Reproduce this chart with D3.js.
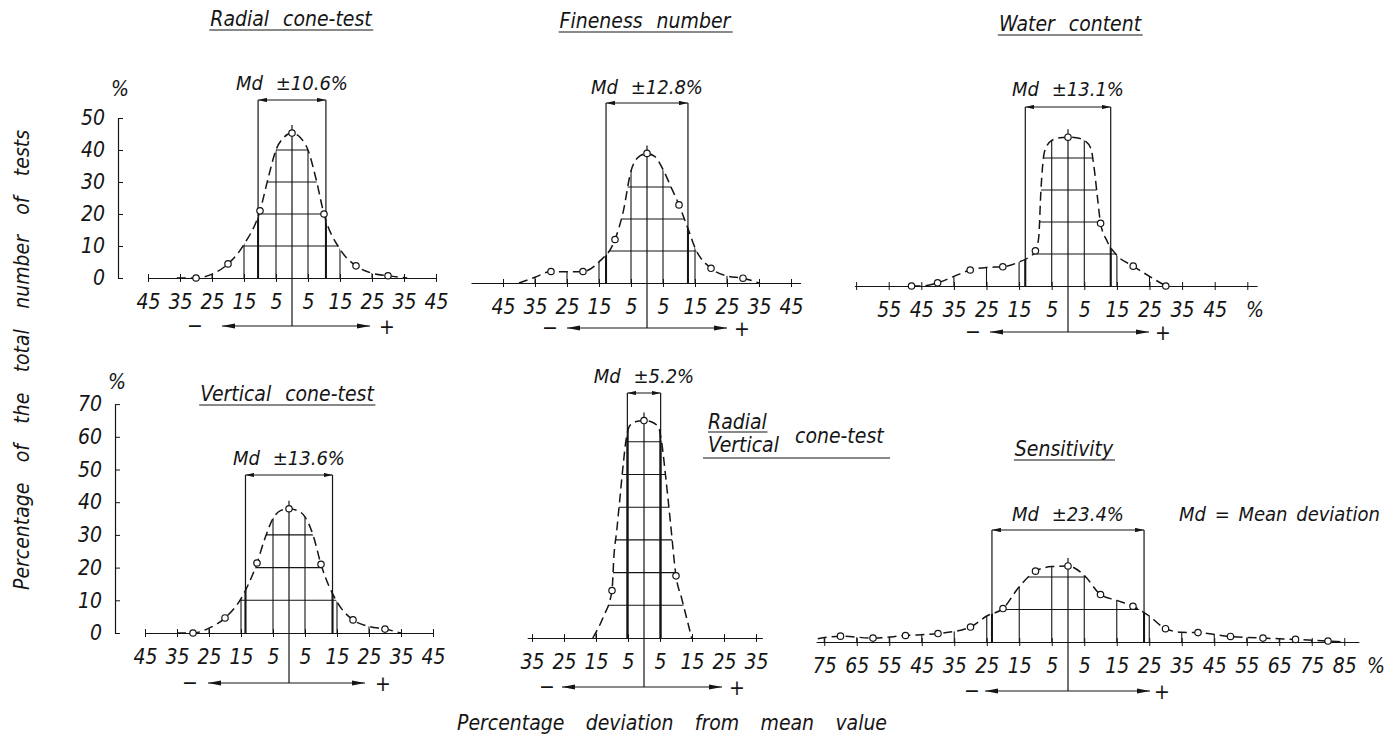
<!DOCTYPE html>
<html>
<head>
<meta charset="utf-8">
<script src="https://cdnjs.cloudflare.com/ajax/libs/d3/7.8.5/d3.min.js"></script>
<style>
  body { margin: 0; background: #fff; }
  svg text {
    font-family: "DejaVu Sans Condensed", "Liberation Sans Narrow", "DejaVu Sans", sans-serif;
    font-style: italic;
    fill: #151515;
  }
  .tick-label { font-size: 21px; }
  .title { font-size: 21px; word-spacing: 8px; }
  .md-label { font-size: 20px; word-spacing: 7px; }
  .big-label { font-size: 21px; }
  .ink { stroke: #151515; stroke-width: 1.2; fill: none; }
  .grid { stroke: #151515; stroke-width: 1.1; }
  .curve { fill: none; stroke: #151515; stroke-width: 1.5; stroke-dasharray: 9, 5; }
  .pt { fill: #fff; stroke: #151515; stroke-width: 1.2; }
</style>
</head>
<body>
<svg id="chart" width="1393" height="740"></svg>
<script>
//radial cone-test
var radialDev = [-30, -20, -10, 0, 10, 20, 30];
var radialPct = [0, 4.4, 21, 45.3, 20, 3.8, 0.7];
var radialCurveDev = [-36, -30, -25, -20, -15, -10, -7.5, -5, -2.5, 0, 2.5, 5, 7.5, 10, 15, 20, 25, 30, 36];
var radialCurvePct = [0, 0, 1.2, 4.4, 10.5, 21, 31, 40, 44, 45.3, 44, 40, 31, 20, 9, 3.8, 1.5, 0.7, 0];
var radialTicks = [-45, -35, -25, -15, -5, 5, 15, 25, 35, 45];
var radialTickLabels = ["45", "35", "25", "15", "5", "5", "15", "25", "35", "45"];
var radialYTicks = [0, 10, 20, 30, 40, 50];

//fineness number
var finenessDev = [-30, -20, -10, 0, 10, 20, 30];
var finenessPct = [3.6, 3.6, 13.6, 40.5, 24.4, 4.6, 1.5];
var finenessCurveDev = [-40, -35, -30, -25, -20, -15, -10, -7.5, -5, -2.5, 0, 2.5, 5, 7.5, 10, 12.8, 15, 20, 25, 30, 35];
var finenessCurvePct = [0, 1.8, 3.6, 3.5, 3.6, 6.6, 13.6, 22, 35, 39.5, 40.5, 39.5, 35.5, 30, 24.4, 17, 11, 4.6, 2.2, 1.5, 0];
var finenessTicks = [-45, -35, -25, -15, -5, 5, 15, 25, 35, 45];
var finenessTickLabels = ["45", "35", "25", "15", "5", "5", "15", "25", "35", "45"];

//water content
var waterDev = [-48, -40, -30, -20, -10, 0, 10, 20, 30];
var waterPct = [0, 1, 5, 6, 11, 46.5, 19.6, 6.2, 0];
var waterCurveDev = [-48, -45, -40, -35, -30, -25, -20, -15, -12, -10, -9, -8.3, -7.2, -5, -2.5, 0, 2.5, 5, 7, 8, 9, 10, 12, 15, 20, 25, 30];
var waterCurvePct = [0, 0, 1, 3, 5, 5.8, 6, 7.5, 9, 11, 15, 30, 42, 45.5, 46.3, 46.5, 46.3, 45.5, 43, 37, 28, 19.6, 14, 9.6, 6.2, 3, 0];
var waterTicks = [-65, -55, -45, -35, -25, -15, -5, 5, 15, 25, 35, 45, 55];
var waterTickLabels = ["", "55", "45", "35", "25", "15", "5", "5", "15", "25", "35", "45", ""];

//vertical cone-test
var verticalDev = [-30, -20, -10, 0, 10, 20, 30];
var verticalPct = [0, 4.6, 21.4, 38, 21, 4, 1.2];
var verticalCurveDev = [-35, -30, -25, -20, -15, -10, -7.5, -5, -2.5, 0, 2.5, 5, 7.5, 10, 15, 20, 25, 30, 35];
var verticalCurvePct = [0, 0, 1.5, 4.6, 10.5, 21.4, 29, 35, 37.5, 38, 37.5, 35.5, 30, 21, 9.5, 4, 2, 1.2, 0];
var verticalTicks = [-45, -35, -25, -15, -5, 5, 15, 25, 35, 45];
var verticalTickLabels = ["45", "35", "25", "15", "5", "5", "15", "25", "35", "45"];
var verticalYTicks = [0, 10, 20, 30, 40, 50, 60, 70];

//radial / vertical cone-test
var ratioDev = [-10, 0, 10];
var ratioPct = [14.5, 66.5, 19];
var ratioCurveDev = [-16, -12.7, -10, -9.4, -8.5, -7.8, -6.5, -5.7, -4.4, -2, 0, 2, 4.5, 5.5, 6.7, 8.3, 10, 11.8, 14.9];
var ratioCurvePct = [0, 6.5, 14.5, 25, 33, 40, 53, 60, 65, 66.3, 66.5, 66.2, 64.5, 60, 50, 35, 19, 12, 0];
var ratioTicks = [-35, -25, -15, -5, 5, 15, 25, 35];
var ratioTickLabels = ["35", "25", "15", "5", "5", "15", "25", "35"];

//sensitivity
var sensDev = [-70, -60, -50, -40, -30, -20, -10, 0, 10, 20, 30, 40, 50, 60, 70, 80];
var sensPct = [1.8, 1.2, 2.0, 2.6, 4.6, 10.3, 21.8, 23.4, 14.6, 11.0, 4.1, 2.9, 1.7, 1.2, 0.8, 0.3];
var sensCurveDev = [-77, -70, -60, -50, -40, -30, -25, -20, -15, -10, -5, 0, 5, 10, 15, 20, 25, 30, 35, 40, 50, 60, 70, 80, 85];
var sensCurvePct = [1, 1.8, 1.2, 2.0, 2.6, 4.6, 8, 10.3, 17, 21.8, 23.2, 23.4, 20.5, 14.6, 12.8, 11, 8, 4.1, 3, 2.9, 1.7, 1.2, 0.8, 0.3, 0];
var sensTicks = [-75, -65, -55, -45, -35, -25, -15, -5, 5, 15, 25, 35, 45, 55, 65, 75, 85];
var sensTickLabels = ["75", "65", "55", "45", "35", "25", "15", "5", "5", "15", "25", "35", "45", "55", "65", "75", "85"];

//mean deviations
var mdValues = [10.6, 12.8, 13.1, 13.6, 5.2, 23.4];

//panel layout
var panels = [
  { title: "Radial cone-test", titleX: 291, titleY: 26, dev: radialDev, pct: radialPct,
    curveDev: radialCurveDev, curvePct: radialCurvePct, ticks: radialTicks, tickLabels: radialTickLabels,
    cx: 292, base: 278, kx: 3.2, ky: 3.2, axisMin: -45, axisMax: 45, md: mdValues[0],
    mdY: 90, bracketY: 100, arrowY: 326, arrowL: 70, arrowR: 78, minusOff: 97, plusOff: 95,
    yTicks: radialYTicks, yAxisX: 118, pctY: 96 },
  { title: "Fineness number", titleX: 645, titleY: 28, dev: finenessDev, pct: finenessPct,
    curveDev: finenessCurveDev, curvePct: finenessCurvePct, ticks: finenessTicks, tickLabels: finenessTickLabels,
    cx: 647, base: 283, kx: 3.2, ky: 3.2, axisMin: -55, axisMax: 48, md: mdValues[1],
    mdY: 94, bracketY: 103, arrowY: 328, arrowL: 80, arrowR: 80, minusOff: 97, plusOff: 95 },
  { title: "Water content", titleX: 1070, titleY: 31, dev: waterDev, pct: waterPct,
    curveDev: waterCurveDev, curvePct: waterCurvePct, ticks: waterTicks, tickLabels: waterTickLabels,
    cx: 1068, base: 286, kx: 3.26, ky: 3.2, axisMin: -65.5, axisMax: 58, md: mdValues[2],
    mdY: 96, bracketY: 107, arrowY: 332, arrowL: 78, arrowR: 81, minusOff: 95, plusOff: 95, pctX: 1255 },
  { title: "Vertical cone-test", titleX: 287, titleY: 401, dev: verticalDev, pct: verticalPct,
    curveDev: verticalCurveDev, curvePct: verticalCurvePct, ticks: verticalTicks, tickLabels: verticalTickLabels,
    cx: 289, base: 633, kx: 3.2, ky: 3.27, axisMin: -45, axisMax: 45, md: mdValues[3],
    mdY: 465, bracketY: 475, arrowY: 683, arrowL: 81, arrowR: 76, minusOff: 99, plusOff: 94,
    yTicks: verticalYTicks, yAxisX: 115, pctY: 389 },
  { title: null, dev: ratioDev, pct: ratioPct,
    curveDev: ratioCurveDev, curvePct: ratioCurvePct, ticks: ratioTicks, tickLabels: ratioTickLabels,
    cx: 644, base: 638, kx: 3.2, ky: 3.27, axisMin: -36.5, axisMax: 37, md: mdValues[4],
    mdY: 383, bracketY: 393, arrowY: 687, arrowL: 82, arrowR: 78, minusOff: 97, plusOff: 93 },
  { title: "Sensitivity", titleX: 1064, titleY: 456, dev: sensDev, pct: sensPct,
    curveDev: sensCurveDev, curvePct: sensCurvePct, ticks: sensTicks, tickLabels: sensTickLabels,
    cx: 1068, base: 642, kx: 3.25, ky: 3.25, axisMin: -77.5, axisMax: 89.5, md: mdValues[5],
    mdY: 521, bracketY: 530, arrowY: 691, arrowL: 83, arrowR: 82, minusOff: 96, plusOff: 94, pctX: 1376 }
];

var svg = d3.select("#chart");
var defs = svg.append("defs");

//arrow heads
function addMarker(id, len, half) {
  defs.append("marker")
    .attr("id", id)
    .attr("viewBox", "0 " + (-half) + " " + len + " " + (2 * half))
    .attr("refX", len)
    .attr("refY", 0)
    .attr("markerWidth", len)
    .attr("markerHeight", 2 * half)
    .attr("markerUnits", "userSpaceOnUse")
    .attr("orient", "auto-start-reverse")
    .append("path")
    .attr("d", "M0," + (-half) + "L" + len + ",0L0," + half + "Z")
    .attr("fill", "#151515");
}
addMarker("arrowBig", 13, 2.6);
addMarker("arrowSmall", 9, 2.2);

function underline(textSel, y, pad) {
  var bb = textSel.node().getBBox();
  svg.append("line").attr("class", "ink")
    .attr("x1", bb.x - pad).attr("x2", bb.x + bb.width + pad)
    .attr("y1", y).attr("y2", y);
}

// spread the words of a label over a given length
function spreadWords(textSel, len) {
  var node = textSel.node();
  var gaps = node.textContent.split(" ").length - 1;
  var natural = node.getComputedTextLength();
  textSel.style("word-spacing", ((len - natural) / gaps) + "px");
}

function drawPanel(p, i) {
  var x = d3.scaleLinear()
    .domain([p.axisMin, p.axisMax])
    .range([p.cx + p.axisMin * p.kx, p.cx + p.axisMax * p.kx]);
  var y = d3.scaleLinear()
    .domain([0, 70])
    .range([p.base, p.base - 70 * p.ky]);

  var curveData = p.curveDev.map(function(d, j) { return { x: d, y: p.curvePct[j] }; });
  var pointData = p.dev.map(function(d, j) { return { x: d, y: p.pct[j] }; });
  var peak = d3.max(p.pct);

  var g = svg.append("g").attr("class", "panel");

  var area = d3.area().curve(d3.curveMonotoneX)
    .x(function(d) { return x(d.x); })
    .y0(y(0))
    .y1(function(d) { return y(d.y); });
  var line = d3.line().curve(d3.curveMonotoneX)
    .x(function(d) { return x(d.x); })
    .y(function(d) { return y(d.y); });

  defs.append("clipPath").attr("id", "under" + i)
    .append("path").attr("d", area(curveData));

  // grid under the curve
  var grid = g.append("g").attr("clip-path", "url(#under" + i + ")");
  grid.selectAll("line.v")
    .data(p.ticks)
    .enter().append("line")
    .attr("class", "grid")
    .attr("x1", function(d) { return x(d); })
    .attr("x2", function(d) { return x(d); })
    .attr("y1", y(0))
    .attr("y2", y(70));
  grid.selectAll("line.h")
    .data(d3.range(10, peak, 10))
    .enter().append("line")
    .attr("class", "grid")
    .attr("x1", x(p.axisMin))
    .attr("x2", x(p.axisMax))
    .attr("y1", function(d) { return y(d); })
    .attr("y2", function(d) { return y(d); });
  grid.selectAll("line.mdthick")
    .data([-p.md, p.md])
    .enter().append("line")
    .attr("class", "grid")
    .style("stroke-width", 2)
    .attr("x1", function(d) { return x(d); })
    .attr("x2", function(d) { return x(d); })
    .attr("y1", y(0))
    .attr("y2", y(70));

  // x axis
  var xAxis = d3.axisBottom(x)
    .tickValues(p.ticks)
    .tickFormat(function(d, j) { return p.tickLabels[j]; })
    .tickSizeOuter(0);
  var ax = g.append("g")
    .attr("transform", "translate(0," + y(0) + ")")
    .call(xAxis);
  ax.select(".domain").attr("stroke", "#151515").attr("stroke-width", 1.2);
  ax.selectAll(".tick line").attr("y1", -4).attr("y2", 4).attr("stroke", "#151515");
  ax.selectAll(".tick text").attr("class", "tick-label").attr("y", 31).attr("dy", null);

  if (p.pctX) {
    g.append("text").attr("class", "tick-label")
      .attr("x", p.pctX).attr("y", y(0) + 31)
      .attr("text-anchor", "middle")
      .text("%");
  }

  // y axis
  if (p.yTicks) {
    var yMax = d3.max(p.yTicks);
    var ys = y.copy().domain([0, yMax]).range([y(0), y(yMax)]);
    var yAxis = d3.axisLeft(ys)
      .tickValues(p.yTicks)
      .tickSizeInner(-5)
      .tickSizeOuter(0)
      .tickPadding(13);
    var ya = g.append("g")
      .attr("transform", "translate(" + p.yAxisX + ",0)")
      .call(yAxis);
    ya.select(".domain").attr("stroke", "#151515").attr("stroke-width", 1.2);
    ya.selectAll(".tick line").attr("stroke", "#151515");
    ya.selectAll(".tick text").attr("class", "tick-label");
    g.append("text").attr("class", "tick-label")
      .attr("x", p.yAxisX + 2).attr("y", p.pctY)
      .attr("text-anchor", "middle")
      .text("%");
  }

  // mean deviation bracket
  g.selectAll("line.md")
    .data([-p.md, p.md])
    .enter().append("line")
    .attr("class", "ink")
    .attr("x1", function(d) { return x(d); })
    .attr("x2", function(d) { return x(d); })
    .attr("y1", y(0))
    .attr("y2", p.bracketY);
  g.append("line").attr("class", "ink")
    .attr("x1", x(-p.md)).attr("x2", x(p.md))
    .attr("y1", p.bracketY).attr("y2", p.bracketY)
    .attr("marker-start", "url(#arrowSmall)")
    .attr("marker-end", "url(#arrowSmall)");
  g.append("text").attr("class", "md-label")
    .attr("x", x(0)).attr("y", p.mdY)
    .attr("text-anchor", "middle")
    .text("Md \u00b1" + p.md + "%");

  // centre line and sign arrow
  g.append("line").attr("class", "ink")
    .attr("x1", x(0)).attr("x2", x(0))
    .attr("y1", y(peak) - 8).attr("y2", p.arrowY);
  g.append("line").attr("class", "ink")
    .attr("x1", x(0) - p.arrowL).attr("x2", x(0) + p.arrowR)
    .attr("y1", p.arrowY).attr("y2", p.arrowY)
    .attr("marker-start", "url(#arrowBig)")
    .attr("marker-end", "url(#arrowBig)");
  g.append("text").attr("class", "tick-label")
    .attr("x", x(0) - p.minusOff).attr("y", p.arrowY + 7)
    .attr("text-anchor", "middle")
    .text("\u2212");
  g.append("text").attr("class", "tick-label")
    .attr("x", x(0) + p.plusOff).attr("y", p.arrowY + 8)
    .attr("text-anchor", "middle")
    .text("+");

  // dashed curve and points
  g.append("path").attr("class", "curve").attr("d", line(curveData));
  g.selectAll("circle")
    .data(pointData)
    .enter().append("circle")
    .attr("class", "pt")
    .attr("cx", function(d) { return x(d.x); })
    .attr("cy", function(d) { return y(d.y); })
    .attr("r", 3.2);

  // title
  if (p.title) {
    var t = svg.append("text").attr("class", "title")
      .attr("x", p.titleX).attr("y", p.titleY)
      .attr("text-anchor", "middle")
      .text(p.title);
    underline(t, p.titleY + 4, 1);
  }
}

panels.forEach(drawPanel);

//radial / vertical label
var rad = svg.append("text").attr("class", "title").attr("x", 708).attr("y", 429).text("Radial");
underline(rad, 432, 0);
svg.append("text").attr("class", "title").attr("x", 708).attr("y", 452).text("Vertical");
svg.append("text").attr("class", "title").attr("x", 795).attr("y", 443).text("cone-test");
svg.append("line").attr("class", "ink")
  .attr("x1", 703).attr("x2", 890).attr("y1", 458).attr("y2", 458);

//legend note
svg.append("text").attr("class", "md-label")
  .attr("x", 1179).attr("y", 521)
  .style("word-spacing", "3px")
  .text("Md = Mean deviation");

//axis titles
var yTitle = svg.append("text").attr("class", "big-label")
  .attr("transform", "translate(29,360) rotate(-90)")
  .attr("text-anchor", "middle")
  .text("Percentage of the total number of tests");
spreadWords(yTitle, 460);
var xTitle = svg.append("text").attr("class", "big-label")
  .attr("x", 457).attr("y", 730)
  .text("Percentage deviation from mean value");
spreadWords(xTitle, 430);
</script>
</body>
</html>
